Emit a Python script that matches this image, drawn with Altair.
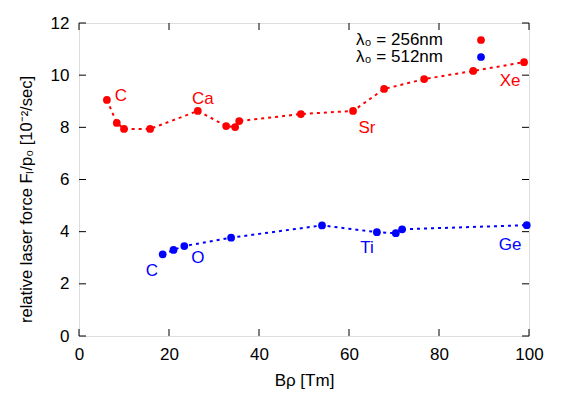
import altair as alt
import pandas as pd

# data
red_x = [6.2, 8.4, 10.0, 15.8, 26.4, 32.7, 34.7, 35.6, 49.3, 60.9, 67.8, 76.7, 87.6, 98.9]
red_y = [9.05, 8.17, 7.94, 7.94, 8.63, 8.05, 8.01, 8.24, 8.51, 8.63, 9.47, 9.85, 10.16, 10.5]
blue_x = [18.6, 21.0, 23.4, 33.8, 54.0, 66.2, 70.4, 71.8, 99.5]
blue_y = [3.13, 3.30, 3.45, 3.77, 4.24, 3.98, 3.94, 4.09, 4.25]

red_labels = ["C", "Ca", "Sr", "Xe"]
red_label_x = [9.3, 27.5, 64.0, 95.8]
red_label_y = [9.2, 9.1, 7.97, 9.78]
blue_labels = ["C", "O", "Ti", "Ge"]
blue_label_x = [16.2, 26.4, 64.0, 95.8]
blue_label_y = [2.5, 3.0, 3.37, 3.5]

x_ticks = [0, 20, 40, 60, 80, 100]
y_ticks = [0, 2, 4, 6, 8, 10, 12]
series_names = ["λ₀ = 256nm", "λ₀ = 512nm"]
colors = ["#ff0000", "#0000ff"]

W, H = 450, 313
FONT = "Liberation Sans"
FS = 17

red = pd.DataFrame({"x": red_x, "y": red_y})
blue = pd.DataFrame({"x": blue_x, "y": blue_y})
red_lab = pd.DataFrame({"x": red_label_x, "y": red_label_y, "t": red_labels})
blue_lab = pd.DataFrame({"x": blue_label_x, "y": blue_label_y, "t": blue_labels})
xt = pd.DataFrame({"x": x_ticks})
yt = pd.DataFrame({"y": y_ticks})

xscale = alt.Scale(domain=[0, 100], nice=False, zero=False)
yscale = alt.Scale(domain=[0, 12], nice=False, zero=False)

xaxis = alt.Axis(values=x_ticks, title="Bρ [Tm]", grid=False, domain=False, ticks=False,
                 labelFlush=False, labelOverlap=False,
                 labelPadding=10, titlePadding=10, labelFontSize=FS, titleFontSize=FS,
                 labelFont=FONT, titleFont=FONT, labelColor="black", titleColor="black",
                 titleFontWeight="normal")
yaxis = alt.Axis(values=y_ticks, title="relative laser force Fₗ/p₀ [10⁻²/sec]", grid=False,
                 domain=False, ticks=False, labelFlush=False, labelOverlap=False,
                 labelPadding=10, titlePadding=16, titleY=176,
                 labelFontSize=FS, titleFontSize=16.5, labelFont=FONT, titleFont=FONT,
                 labelColor="black", titleColor="black", titleFontWeight="normal")

X = alt.X("x:Q", scale=xscale, axis=xaxis)
Y = alt.Y("y:Q", scale=yscale, axis=yaxis)


def series(df, color):
    line = alt.Chart(df).mark_line(color=color, strokeWidth=2, strokeDash=[3, 4]).encode(x=X, y=Y)
    pts = alt.Chart(df).mark_circle(color=color, size=60, opacity=1).encode(x=X, y=Y)
    return line + pts


def labels(df, color):
    return alt.Chart(df).mark_text(color=color, font=FONT, fontSize=FS).encode(x=X, y=Y, text="t:N")


TL = 7
ticks_bottom = alt.Chart(xt).mark_rule(color="black", strokeWidth=1).encode(
    x=X, y=alt.value(H), y2=alt.value(H - TL))
ticks_top = alt.Chart(xt).mark_rule(color="black", strokeWidth=1).encode(
    x=X, y=alt.value(0), y2=alt.value(TL))
ticks_left = alt.Chart(yt).mark_rule(color="black", strokeWidth=1).encode(
    y=Y, x=alt.value(0), x2=alt.value(TL))
ticks_right = alt.Chart(yt).mark_rule(color="black", strokeWidth=1).encode(
    y=Y, x=alt.value(W), x2=alt.value(W - TL))

legend_layers = []
for i, (name, c) in enumerate(zip(series_names, colors)):
    d = pd.DataFrame({"name": [name], "c": [c]})
    ypix = 17 + 17 * i
    legend_layers.append(alt.Chart(d).mark_text(align="right", baseline="middle", font=FONT,
                                                fontSize=FS, color="black").encode(
        text="name:N", x=alt.value(364), y=alt.value(ypix)))
    legend_layers.append(alt.Chart(d).mark_circle(size=60, opacity=1, color=c).encode(
        x=alt.value(402), y=alt.value(ypix)))

chart = alt.layer(
    series(red, colors[0]),
    series(blue, colors[1]),
    labels(red_lab, colors[0]),
    labels(blue_lab, colors[1]),
    ticks_bottom, ticks_top, ticks_left, ticks_right,
    *legend_layers,
).properties(
    width=W, height=H,
    autosize=alt.AutoSizeParams(type="none"),
    padding={"left": 71, "top": 15, "right": 20, "bottom": 58},
).configure_view(stroke="black", strokeWidth=1).configure(background="white")

chart.save("out.html", embed_options={"renderer": "svg", "actions": False})
